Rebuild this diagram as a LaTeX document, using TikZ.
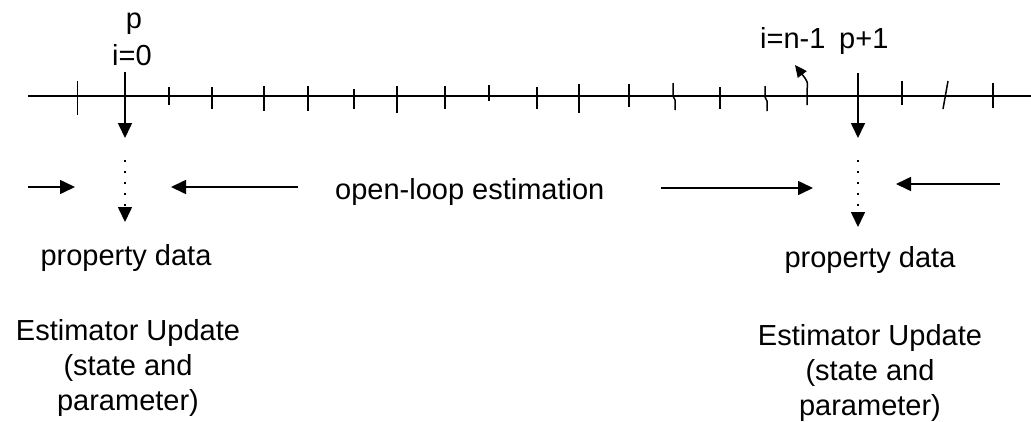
\documentclass[tikz,border=0pt]{standalone}
\usepackage{fontspec}
\setmainfont{Liberation Sans}
\usetikzlibrary{arrows.meta}
\begin{document}
\begin{tikzpicture}[x=1pt,y=-1pt,
  lbl/.style={inner sep=0pt,font=\fontsize{29}{35}\selectfont},
  axisline/.style={line width=1.6pt},
  tickline/.style={line width=1.5pt},
  arr/.style={line width=1.6pt,-{Triangle[length=15pt,width=14pt]}},
  dotline/.style={line width=1.6pt,dash pattern=on 1.6pt off 9.4pt,-{Triangle[length=15pt,width=14pt]}},
  curvarr/.style={line width=1.5pt,-{Triangle[length=12pt,width=11pt]}}]
\useasboundingbox (0,0) rectangle (1031,421);
% axis
\coordinate (axL) at (28,96);
\coordinate (axR) at (1031,96);
\draw[axisline] (axL) -- (axR);
% ticks
\foreach \x/\a/\b in {77.7/81/115,169/87/105,212/87/109,264/86/111,308/86/111,354/89/109,397/86/113,445/86/109,489/85/101,537/87/109,579/84/113,629/84/107,720/87/109,902/81/105,993/83/108}
  \draw[tickline] (\x,\a) -- (\x,\b);
% irregular ticks
\draw[tickline] (673,83) -- (673,96) -- (675,100) -- (675,110);
\draw[tickline] (765,86) -- (765,97) -- (767,101) -- (767,111);
\draw[tickline] (948,81) -- (943,109);
% curved tick with arrow
\coordinate (cb) at (807,105);
\coordinate (ct) at (795,65);
\draw[curvarr] (cb) -- (807,90) .. controls (808,82) .. (ct);
% update arrows
\coordinate (p0t) at (125,72);
\coordinate (p0b) at (125,138);
\draw[arr] (p0t) -- (p0b);
\coordinate (p1t) at (858,73);
\coordinate (p1b) at (858,138);
\draw[arr] (p1t) -- (p1b);
% dotted arrows
\coordinate (d0t) at (125,160);
\coordinate (d0b) at (125,222);
\draw[dotline] (d0t) -- (d0b);
\coordinate (d1t) at (858,160);
\coordinate (d1b) at (858,227);
\draw[dotline] (d1t) -- (d1b);
% horizontal arrows
\coordinate (h1a) at (28,187);  \coordinate (h1b) at (75,187);
\coordinate (h2a) at (298,187); \coordinate (h2b) at (171,187);
\coordinate (h3a) at (661,188); \coordinate (h3b) at (813,188);
\coordinate (h4a) at (1000,184); \coordinate (h4b) at (896,184);
\draw[arr] (h1a) -- (h1b);
\draw[arr] (h2a) -- (h2b);
\draw[arr] (h3a) -- (h3b);
\draw[arr] (h4a) -- (h4b);
% labels
\node[lbl,anchor=base] (lp) at (134,28) {p};
\node[lbl,anchor=base] (li0) at (132,65) {i=0};
\node[lbl,anchor=base west] (lin) at (760,48) {i=n-1};
\node[lbl,anchor=base west] (lp1) at (839,48) {p+1};
\node[lbl,anchor=base west] (lol) at (335,199) {open-loop estimation};
\node[lbl,anchor=base] (pd0) at (126,265) {property data};
\node[lbl,anchor=base] (pd1) at (870,267) {property data};
\node[lbl,anchor=north,align=center] (eu0) at (128,319) {Estimator Update\\(state and\\parameter)};
\node[lbl,anchor=north,align=center] (eu1) at (870,324) {Estimator Update\\(state and\\parameter)};
\end{tikzpicture}
\end{document}
